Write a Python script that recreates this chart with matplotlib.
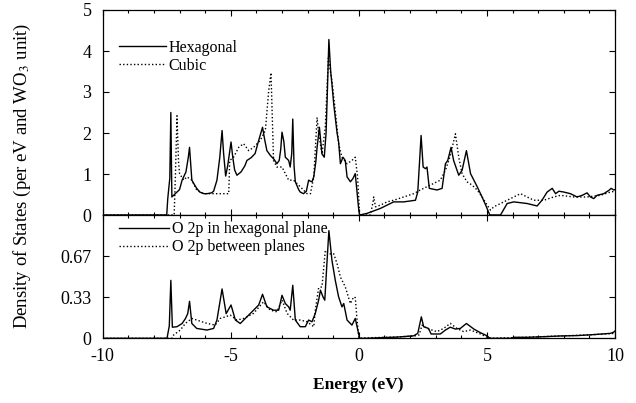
import matplotlib
matplotlib.use("Agg")
import matplotlib.pyplot as plt
from matplotlib.ticker import MultipleLocator

plt.rcParams['font.family'] = ['Liberation Serif', 'DejaVu Serif']
plt.rcParams['mathtext.fontset'] = 'stix'

# ---- top panel: total DOS ----
hex_E = [-10, -7.50, -7.46, -7.38, -7.34, -7.30, -7.20, -7.10, -7.00, -6.90, -6.84, -6.75, -6.66, -6.61,
         -6.55, -6.52, -6.40, -6.33, -6.21, -6.05, -5.93, -5.75, -5.67, -5.54, -5.43, -5.34, -5.28, -5.20,
         -5.12, -4.99, -4.92, -4.85, -4.76, -4.60, -4.45, -4.37, -4.20, -4.05, -3.91, -3.76, -3.68, -3.59,
         -3.45, -3.30, -3.20, -3.11, -3.05, -3.00, -2.93, -2.87, -2.74, -2.68, -2.62, -2.58, -2.53, -2.48,
         -2.35, -2.29, -2.16, -2.05, -1.96, -1.88, -1.83, -1.76, -1.68, -1.63, -1.54, -1.48, -1.44, -1.35,
         -1.28, -1.24, -1.17, -1.10, -1.05, -0.98, -0.92, -0.85, -0.79, -0.72, -0.62, -0.53, -0.46, -0.33,
         -0.23, -0.14, -0.07, 0.00, 0.03, 0.32, 0.84, 1.23, 1.36, 1.75, 2.21, 2.30, 2.43, 2.51, 2.60, 2.66,
         2.75, 3.05, 3.25, 3.38, 3.47, 3.60, 3.70, 3.90, 4.03, 4.20, 4.36, 4.49, 4.62, 4.81, 4.98, 5.11,
         5.53, 5.79, 6.05, 6.57, 6.96, 7.15, 7.35, 7.55, 7.68, 7.81, 8.00, 8.26, 8.52, 8.72, 8.91, 9.04,
         9.17, 9.30, 9.56, 9.76, 9.85, 9.95, 10.0]
hex_D = [0, 0, 0.40, 0.90, 2.50, 0.44, 0.50, 0.56, 0.62, 0.85, 0.93, 1.05, 1.40, 1.65,
         1.10, 0.85, 0.72, 0.65, 0.56, 0.52, 0.52, 0.54, 0.58, 0.85, 1.40, 2.06, 1.50, 0.95,
         1.20, 1.78, 1.40, 1.10, 0.97, 1.05, 1.20, 1.33, 1.40, 1.50, 1.82, 2.14, 1.85, 1.57,
         1.45, 1.35, 1.25, 1.33, 1.60, 2.02, 1.80, 1.41, 1.33, 1.17, 1.50, 2.34, 1.20, 0.81,
         0.62, 0.56, 0.52, 0.58, 0.85, 0.82, 0.81, 0.93, 1.30, 1.65, 2.14, 1.75, 1.49, 1.41,
         2.00, 2.78, 4.28, 3.50, 3.19, 2.70, 2.38, 2.00, 1.78, 1.25, 1.41, 1.33, 0.93, 0.81,
         0.89, 1.01, 0.55, 0.10, 0.0, 0.04, 0.16, 0.28, 0.32, 0.32, 0.36, 0.56, 1.94, 1.17, 1.13, 1.17,
         0.65, 0.61, 0.65, 1.25, 1.33, 1.65, 1.33, 0.97, 1.09, 1.57, 1.01, 0.85, 0.69, 0.44, 0.20, 0.0,
         0.0, 0.28, 0.32, 0.28, 0.22, 0.36, 0.56, 0.65, 0.52, 0.58, 0.56, 0.52, 0.44, 0.48, 0.54, 0.44,
         0.40, 0.48, 0.52, 0.60, 0.65, 0.61, 0.62]

cub_E = [-10, -7.21, -7.16, -7.10, -7.04, -7.00, -6.84, -6.71, -6.52, -6.33, -6.07, -5.67, -5.41, -5.08,
         -5.04, -4.89, -4.69, -4.50, -4.30, -4.11, -3.85, -3.65, -3.52, -3.43, -3.33, -3.20, -3.00, -2.87,
         -2.74, -2.55, -2.29, -2.02, -1.89, -1.76, -1.63, -1.57, -1.44, -1.31, -1.19, -1.05, -0.92, -0.79,
         -0.66, -0.46, -0.27, -0.14, -0.05, 0.03, 0.45, 0.55, 0.58, 0.65, 0.84, 1.10, 1.36, 1.75, 2.14,
         2.40, 2.79, 3.18, 3.38, 3.55, 3.68, 3.77, 3.90, 4.03, 4.22, 4.42, 4.62, 4.81, 5.01, 5.14, 5.27,
         5.53, 5.92, 6.31, 6.57, 6.83, 7.22, 7.61, 7.87, 8.39, 8.91, 9.43, 9.82, 10.0]
cub_D = [0, 0, 1.00, 2.42, 1.30, 1.01, 0.85, 0.93, 0.85, 0.61, 0.52, 0.52, 0.52, 0.52,
         1.33, 1.41, 1.65, 1.74, 1.57, 1.65, 1.82, 2.06, 3.03, 3.47, 1.33, 1.17, 1.17, 1.01,
         0.85, 0.85, 0.69, 0.52, 0.52, 0.93, 2.38, 1.98, 1.49, 2.14, 3.83, 3.27, 2.54, 1.74,
         1.41, 1.25, 1.33, 1.41, 0.93, 0.0, 0.0, 0.30, 0.44, 0.20, 0.24, 0.32, 0.36, 0.44, 0.52,
         0.61, 0.73, 0.85, 1.09, 1.41, 1.74, 1.98, 1.41, 1.01, 0.81, 0.73, 0.61, 0.44, 0.24, 0.12, 0.20,
         0.28, 0.40, 0.52, 0.44, 0.36, 0.36, 0.44, 0.48, 0.44, 0.44, 0.48, 0.56, 0.58]

# ---- bottom panel: O 2p partial DOS ----
oin_E = [-10, -7.49, -7.40, -7.34, -7.28, -7.10, -6.90, -6.77, -6.68, -6.61, -6.52, -6.33, -5.93, -5.67,
         -5.54, -5.34, -5.18, -4.99, -4.82, -4.63, -4.37, -4.11, -3.91, -3.76, -3.59, -3.33, -3.13, -3.00,
         -2.87, -2.74, -2.68, -2.58, -2.48, -2.29, -2.09, -1.96, -1.83, -1.70, -1.57, -1.50, -1.40, -1.33,
         -1.24, -1.17, -1.05, -0.92, -0.79, -0.66, -0.59, -0.46, -0.27, -0.14, -0.07, 0.03, 0.32, 0.84,
         1.50, 2.14, 2.30, 2.44, 2.53, 2.72, 2.82, 3.18, 3.38, 3.57, 3.77, 3.96, 4.20, 4.49, 4.75, 5.01,
         5.11, 5.92, 6.05, 6.57, 7.22, 7.87, 8.52, 9.17, 9.82, 9.95, 10.0]
oin_D = [0, 0, 0.10, 0.47, 0.09, 0.094, 0.12, 0.16, 0.20, 0.30, 0.12, 0.08, 0.067, 0.08,
         0.148, 0.40, 0.20, 0.27, 0.148, 0.12, 0.174, 0.228, 0.27, 0.357, 0.255, 0.228, 0.228, 0.349,
         0.282, 0.255, 0.228, 0.43, 0.148, 0.094, 0.094, 0.148, 0.134, 0.202, 0.309, 0.39, 0.336, 0.309,
         0.632, 0.873, 0.632, 0.47, 0.336, 0.255, 0.282, 0.148, 0.107, 0.161, 0.094, 0.0, 0.0, 0.005,
         0.01, 0.02, 0.04, 0.174, 0.094, 0.08, 0.035, 0.035, 0.067, 0.09, 0.075, 0.08, 0.12, 0.075, 0.045, 0.02,
         0.0, 0.0, 0.008, 0.008, 0.013, 0.019, 0.022, 0.03, 0.04, 0.05, 0.06]

obt_E = [-10, -7.30, -7.23, -6.97, -6.77, -6.52, -6.33, -5.93, -5.61, -5.41, -5.21, -5.02, -4.76, -4.50,
         -4.11, -3.72, -3.46, -3.20, -3.00, -2.80, -2.55, -2.29, -2.02, -1.76, -1.70, -1.57, -1.44, -1.31,
         -1.12, -0.98, -0.85, -0.72, -0.53, -0.33, -0.20, -0.14, -0.07, 0.0, 0.5, 1.5, 2.2, 2.35, 2.47,
         2.66, 3.05, 3.31, 3.57, 3.83, 4.09, 4.36, 4.75, 5.01, 5.20, 6.0, 7.0, 8.0, 9.0, 10.0]
obt_D = [0, 0, 0.027, 0.067, 0.121, 0.161, 0.148, 0.121, 0.107, 0.161, 0.174, 0.188, 0.148, 0.161,
         0.202, 0.296, 0.228, 0.215, 0.31, 0.202, 0.148, 0.148, 0.134, 0.094, 0.228, 0.41, 0.417, 0.712,
         0.685, 0.685, 0.605, 0.497, 0.417, 0.282, 0.336, 0.33, 0.148, 0.0, 0.005, 0.01, 0.02, 0.027, 0.107,
         0.08, 0.054, 0.08, 0.121, 0.08, 0.054, 0.067, 0.035, 0.008, 0.0, 0.005, 0.012, 0.02, 0.028, 0.04]

top_yticks = [0, 1, 2, 3, 4, 5]
bot_yticks = [0, 1/3, 2/3]
bot_yticklabels = ['0', '0.33', '0.67']
xticks = [-10, -5, 0, 5, 10]
xticklabels = ['-10', '-5', '0', '5', '10']

dot = (0, (1, 1.6))

fig = plt.figure(figsize=(6.36, 4.03), dpi=100)
L, R = 102.7 / 636, 615 / 636
ax1 = fig.add_axes([L, 1 - 215 / 403, R - L, 205 / 403])
ax2 = fig.add_axes([L, 1 - 338.3 / 403, R - L, 123.3 / 403])

ax1.plot(hex_E, hex_D, color='black', lw=1.0, label='Hexagonal')
ax1.plot(cub_E, cub_D, color='black', lw=1.0, ls=dot, label='Cubic')
ax2.plot(oin_E, oin_D, color='black', lw=1.0, label='O 2p in hexagonal plane')
ax2.plot(obt_E, obt_D, color='black', lw=1.0, ls=dot, label='O 2p between planes')

for ax in (ax1, ax2):
    ax.set_xlim(-10, 10)
    ax.set_xticks(xticks)
    ax.xaxis.set_minor_locator(MultipleLocator(1))
    ax.tick_params(which='both', direction='in', top=True, right=True, labelsize=13)
    ax.tick_params(axis='y', which='major', pad=8)
    ax.tick_params(which='major', length=4.5, width=0.8)
    ax.tick_params(which='minor', length=2.5, width=0.8)
    for s in ax.spines.values():
        s.set_linewidth(0.9)

ax1.set_ylim(0, 5)
ax1.set_yticks(top_yticks)
ax1.tick_params(labelbottom=False)
ax2.set_ylim(0, 1.0)
ax2.set_yticks(bot_yticks)
ax2.set_yticklabels(bot_yticklabels)
ax2.set_xticklabels(xticklabels)
ax2.tick_params(axis='x', which='major', pad=7)

ax1.legend(loc='upper left', bbox_to_anchor=(0.02, 0.885), frameon=False, fontsize=11.5,
           handlelength=2.9, handletextpad=0.2, labelspacing=0.12, borderaxespad=0)
ax2.legend(loc='upper left', bbox_to_anchor=(0.02, 1.0), frameon=False, fontsize=11.5,
           handlelength=3.1, handletextpad=0.2, labelspacing=0.12, borderaxespad=0)

fig.text(358 / 636, 1 - 385 / 403, 'Energy (eV)', ha='center', va='center', fontsize=12.5, fontweight='bold')
fig.text(22 / 636, 1 - 176 / 403, 'Density of States (per eV and WO$_3$ unit)', ha='center', va='center',
         rotation=90, fontsize=13.5)

fig.savefig('out.png', dpi=100)
